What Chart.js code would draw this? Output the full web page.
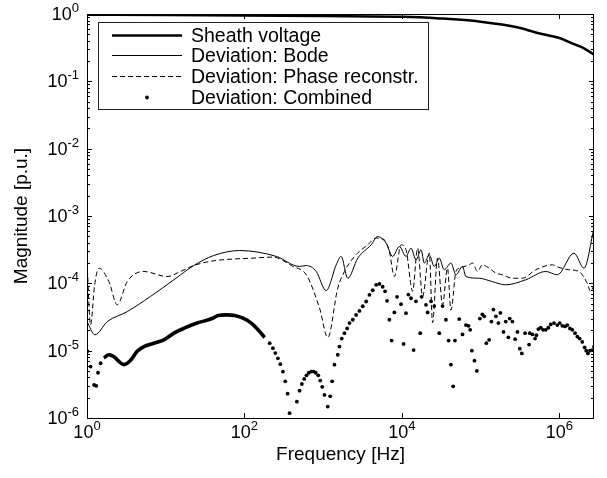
<!DOCTYPE html>
<html>
<head>
<meta charset="utf-8">
<script src="https://cdn.jsdelivr.net/npm/chart.js@4.4.1/dist/chart.umd.min.js"></script>
<style>
  body { margin: 0; background: #fff; }
  #chart { display: block; }
</style>
</head>
<body>
<canvas id="chart" width="607" height="478"></canvas>
<script>
// values (Hz / p.u.)
const seriesNames = ['Sheath voltage', 'Deviation: Bode', 'Deviation: Phase reconstr.', 'Deviation: Combined'];

const sheathFreq = [1, 10, 100, 1e3, 1e4, 3e4, 1e5, 3e5, 5e5, 1e6, 1.5e6, 2e6, 2.75e6];
const sheathMag = [0.975, 0.966, 0.95, 0.93, 0.91, 0.86, 0.77, 0.63, 0.53, 0.44, 0.36, 0.315, 0.25];

const bodeFreq = [1, 1.26, 1.81, 3.24, 6.42, 12.7, 22.7, 40.7, 86.9, 254,
  501, 609, 815, 1090, 1462, 1690, 2050, 2750, 4060, 4920,
  6290, 7620, 9270, 11270, 13030, 15100, 17470, 19230, 22240, 25740,
  29790, 34450, 41880, 48500, 58750, 64900, 95700, 141000, 208000, 374000,
  670000, 940000, 1.53e6, 2.05e6, 2.75e6];
const bodeMag = [2.7e-5, 1.72e-5, 2.7e-5, 3.8e-5, 6.4e-5, 1.13e-4, 1.84e-4, 2.59e-4, 3.07e-4, 2.51e-4,
  1.78e-4, 1.84e-4, 1.5e-4, 7.8e-5, 1.88e-4, 2.51e-4, 1.19e-4, 2.37e-4, 3.73e-4, 4.96e-4,
  3.95e-4, 2.51e-4, 3.52e-4, 2.51e-4, 3.33e-4, 2.23e-4, 3.15e-4, 2.0e-4, 2.65e-4, 1.78e-4,
  2.37e-4, 1.59e-4, 2.0e-4, 1.34e-4, 1.78e-4, 1.26e-4, 1.19e-4, 1.06e-4, 9.5e-5, 1.13e-4,
  1.5e-4, 1.34e-4, 2.81e-4, 1.68e-4, 6.6e-4];

const phaseFreq = [1, 1.11, 1.25, 1.42, 1.9, 2.42, 3.24, 5.28, 10.4, 15.4,
  22.7, 40.7, 128, 230, 412, 609, 898, 1143, 1531, 1862,
  2495, 3670, 4700, 5980, 6920, 8020, 9750, 11270, 13670, 15800,
  18300, 22240, 24500, 28300, 32800, 37900, 41900, 48500, 53400, 71400,
  78700, 91000, 105000, 128000, 156000, 189000, 253000, 339000, 501000, 813000,
  989000, 1.32e6, 1.77e6, 2.26e6, 2.49e6, 2.75e6];
const phaseMag = [2.11e-4, 2.42e-5, 9.5e-5, 1.68e-4, 1.06e-4, 4.8e-5, 1.06e-4, 1.5e-4, 1.26e-4, 1.5e-4,
  1.84e-4, 2.16e-4, 2.37e-4, 2.45e-4, 1.78e-4, 1.34e-4, 4.3e-5, 1.57e-5, 8.5e-5, 1.5e-4,
  2.51e-4, 3.73e-4, 4.7e-4, 4.43e-4, 2.97e-4, 1.26e-4, 3.73e-4, 3.15e-4, 7.6e-5, 3.33e-4,
  6.4e-5, 2.81e-4, 2.6e-5, 2.37e-4, 4.8e-5, 1.68e-4, 4.0e-5, 1.5e-4, 1.68e-4, 1.88e-4,
  2.0e-4, 1.5e-4, 1.88e-4, 1.68e-4, 1.42e-4, 1.34e-4, 1.19e-4, 1.19e-4, 1.59e-4, 1.88e-4,
  1.72e-4, 1.59e-4, 1.5e-4, 1.0e-4, 7.6e-5, 9.5e-5];

// combined: the low-frequency part is so dense the markers merge into a band
const combinedBandFreq = [1.64, 1.9, 2.2, 2.55, 2.94, 3.58, 4.34, 5.28, 7.06, 9.46,
  12.7, 16.9, 25, 38.7, 46.2, 59, 75.2, 95.7, 122, 156, 180];
const combinedBandMag = [7.8e-6, 8.7e-6, 8.1e-6, 6.9e-6, 6.2e-6, 7.2e-6, 9.8e-6, 1.15e-5, 1.29e-5, 1.45e-5,
  1.82e-5, 2.14e-5, 2.57e-5, 3.0e-5, 3.33e-5, 3.4e-5, 3.33e-5, 3.04e-5, 2.57e-5, 1.92e-5, 1.57e-5];

const combinedFreq = [1.01, 1.11, 1.23, 1.31, 1.38, 1.49,
  209, 230, 246, 266, 285, 308, 330, 353, 374,
  463, 501, 536, 574, 614, 657, 705, 754, 805, 865, 916, 971, 1038, 1143, 1226, 1300, 1390, 1531,
  1610, 1720, 1862, 2015, 2155, 2373, 2620, 2885, 3176, 3507, 3864, 4255, 4700, 5175, 5690, 6106,
  6470, 6920, 7400, 8020, 8670, 9750, 10500, 11270, 12050, 13030, 14070, 15100, 17100, 17780,
  20200, 21200, 23400, 25740, 29790, 32800, 36200, 39100, 41900, 44800, 47100, 53400, 58750,
  64900, 70000, 73600, 77300, 83400, 89500, 97700, 105000, 111000, 118000, 128000, 137000,
  145000, 156000, 168000, 178000, 195000, 208000, 225000, 234000, 253000, 274000, 293000,
  314000, 333000, 366000, 412000, 420000, 454000, 491000, 510000, 540000, 580000, 620000,
  670000, 723000, 776000, 855000, 940000, 1.01e6, 1.09e6, 1.18e6, 1.26e6, 1.36e6, 1.46e6,
  1.58e6, 1.69e6, 1.81e6, 1.95e6, 2.09e6, 2.19e6, 2.3e6, 2.44e6, 2.61e6, 2.75e6];
const combinedMag = [9.8e-6, 5.8e-6, 3.1e-6, 3.0e-6, 4.7e-6, 6.5e-6,
  1.29e-5, 1.09e-5, 9.2e-6, 7.7e-6, 6.3e-6, 4.9e-6, 3.5e-6, 2.3e-6, 1.18e-6,
  1.75e-6, 2.55e-6, 3.2e-6, 3.8e-6, 4.3e-6, 4.7e-6, 4.9e-6, 4.9e-6, 4.7e-6, 4.3e-6, 3.6e-6, 2.9e-6, 2.2e-6, 1.48e-6, 2.1e-6, 3.5e-6, 6.2e-6, 8.7e-6,
  1.15e-5, 1.51e-5, 1.82e-5, 2.14e-5, 2.57e-5, 2.88e-5, 3.39e-5, 3.89e-5, 4.57e-5, 5.37e-5, 6.76e-5, 7.9e-5, 9.5e-5, 9.8e-5, 8.9e-5, 7.6e-5,
  5.5e-5, 2.88e-5, 1.41e-5, 3.7e-5, 6.3e-5, 4.9e-5, 1.26e-5, 3.6e-5, 6.8e-5, 6.0e-5, 1.02e-5, 5.4e-5, 1.82e-5, 6.3e-5,
  4.8e-5, 3.7e-5, 5.4e-5, 4.6e-5, 1.82e-5, 4.6e-5, 2.88e-5, 1.41e-5, 6.2e-6, 2.95e-6, 1.41e-5, 2.95e-5, 1.74e-5,
  2.4e-5, 2.34e-5, 2.04e-5, 1.0e-5, 7.1e-6, 5.0e-6, 3.0e-5, 3.47e-5, 3.24e-5, 1.29e-5, 1.45e-5, 2.7e-5,
  4.07e-5, 3.24e-5, 2.57e-5, 3.63e-5, 1.9e-5, 2.7e-5, 1.58e-5, 3.0e-5, 2.7e-5, 1.48e-5, 1.9e-5,
  1.07e-5, 9.1e-6, 1.82e-5, 1.23e-5, 1.82e-5, 1.74e-5, 1.51e-5, 1.7e-5, 2.09e-5, 2.19e-5, 2.04e-5,
  2.04e-5, 2.19e-5, 2.45e-5, 2.57e-5, 2.4e-5, 2.57e-5, 2.34e-5, 2.29e-5, 2.4e-5, 2.14e-5, 2.04e-5,
  1.82e-5, 1.62e-5, 1.51e-5, 1.35e-5, 1.12e-5, 1.0e-5, 9.1e-6, 1.0e-5, 1.02e-5, 1.15e-5];

const xTickExps = [0, 2, 4, 6];
const yTickExps = [-6, -5, -4, -3, -2, -1, 0];
const xMin = 1, xMax = 2.75e6, yMin = 1e-6, yMax = 1;

const FONT = '"Liberation Sans", Arial, sans-serif';

function pts(xs, ys) {
  return xs.map((x, i) => ({ x, y: ys[i] }));
}

// "10" with a raised exponent, like the matlab tick labels
function drawPower(ctx, e, x, y, align) {
  ctx.font = '18px ' + FONT;
  const wb = ctx.measureText('10').width;
  ctx.font = '13px ' + FONT;
  const we = ctx.measureText(String(e)).width;
  const x0 = align === 'center' ? x - (wb + we) / 2 : x - wb - we;
  ctx.font = '18px ' + FONT;
  ctx.fillText('10', x0, y);
  ctx.font = '13px ' + FONT;
  ctx.fillText(String(e), x0 + wb, y - 8);
}

const matlabAxes = {
  id: 'matlabAxes',
  afterDatasetsDraw(chart) {
    const { ctx, chartArea: a, scales: { x, y } } = chart;
    ctx.save();
    ctx.strokeStyle = '#000';
    ctx.lineWidth = 1;
    ctx.strokeRect(a.left + 0.5, a.top + 0.5, a.right - a.left - 1, a.bottom - a.top);

    ctx.beginPath();
    xTickExps.forEach(e => {
      const px = Math.round(x.getPixelForValue(10 ** e)) + 0.5;
      ctx.moveTo(px, a.bottom); ctx.lineTo(px, a.bottom - 5);
      ctx.moveTo(px, a.top); ctx.lineTo(px, a.top + 5);
    });
    yTickExps.forEach(e => {
      for (let k = 1; k < 10; k++) {
        const v = k * 10 ** e;
        if (v > yMax * 1.001) break;
        const len = k === 1 ? 5 : 3;
        const py = Math.round(y.getPixelForValue(v)) + 0.5;
        ctx.moveTo(a.left, py); ctx.lineTo(a.left + len, py);
        ctx.moveTo(a.right, py); ctx.lineTo(a.right - len, py);
      }
    });
    ctx.stroke();

    ctx.fillStyle = '#000';
    ctx.textBaseline = 'alphabetic';
    ctx.textAlign = 'left';
    xTickExps.forEach(e => {
      drawPower(ctx, e, x.getPixelForValue(10 ** e), a.bottom + 20, 'center');
    });
    yTickExps.forEach(e => {
      drawPower(ctx, e, a.left - 8, y.getPixelForValue(10 ** e) + 6, 'right');
    });

    // legend box, top-left inside the axes
    const lx = 98, ly = 22, lw = 330, lh = 87;
    ctx.fillStyle = '#fff';
    ctx.fillRect(lx, ly, lw, lh);
    ctx.strokeStyle = '#222';
    ctx.strokeRect(lx + 0.5, ly + 0.5, lw, lh);
    const rows = [35, 55, 76, 97];
    const legendSets = [0, 1, 2, 4];
    ctx.font = '19.5px ' + FONT;
    legendSets.forEach((di, i) => {
      const ds = chart.data.datasets[di];
      const ry = rows[i] + 0.5;
      ctx.strokeStyle = '#000';
      ctx.fillStyle = '#000';
      if (ds.showLine) {
        ctx.lineWidth = ds.borderWidth;
        ctx.setLineDash(ds.borderDash || []);
        ctx.beginPath();
        ctx.moveTo(112, ry); ctx.lineTo(182, ry);
        ctx.stroke();
        ctx.setLineDash([]);
      } else {
        ctx.beginPath();
        ctx.arc(147, ry, ds.pointRadius, 0, Math.PI * 2);
        ctx.fill();
      }
      ctx.textBaseline = 'middle';
      ctx.fillText(ds.label, 191, ry + 1);
    });
    ctx.restore();
  }
};

new Chart(document.getElementById('chart'), {
  type: 'scatter',
  data: {
    datasets: [
      { label: seriesNames[0], data: pts(sheathFreq, sheathMag), showLine: true,
        borderColor: '#000', borderWidth: 2.5, pointRadius: 0, cubicInterpolationMode: 'monotone' },
      { label: seriesNames[1], data: pts(bodeFreq, bodeMag), showLine: true,
        borderColor: '#000', borderWidth: 1, pointRadius: 0, cubicInterpolationMode: 'monotone' },
      { label: seriesNames[2], data: pts(phaseFreq, phaseMag), showLine: true,
        borderColor: '#000', borderWidth: 1, borderDash: [5, 3], pointRadius: 0, cubicInterpolationMode: 'monotone' },
      { label: seriesNames[3] + ' (dense)', data: pts(combinedBandFreq, combinedBandMag), showLine: true,
        borderColor: '#000', borderWidth: 3.6, pointRadius: 0, cubicInterpolationMode: 'monotone' },
      { label: seriesNames[3], data: pts(combinedFreq, combinedMag), showLine: false,
        backgroundColor: '#000', borderColor: '#000', borderWidth: 0, pointRadius: 1.9 }
    ]
  },
  options: {
    responsive: false,
    animation: false,
    events: [],
    layout: { padding: { left: 0, top: 14, right: 13, bottom: 0 } },
    plugins: { legend: { display: false }, tooltip: { enabled: false } },
    scales: {
      x: {
        type: 'logarithmic', min: xMin, max: xMax,
        grid: { display: false }, border: { display: false },
        ticks: { display: false },
        title: { display: true, text: 'Frequency [Hz]', color: '#000',
          font: { family: FONT, size: 19 }, padding: { top: 0, bottom: 12 } },
        afterFit: s => { s.height = 60; }
      },
      y: {
        type: 'logarithmic', min: yMin, max: yMax,
        grid: { display: false }, border: { display: false },
        ticks: { display: false },
        title: { display: true, text: 'Magnitude [p.u.]', color: '#000',
          font: { family: FONT, size: 19 }, padding: { top: 10, bottom: 0 } },
        afterFit: s => { s.width = 87; }
      }
    }
  },
  plugins: [matlabAxes]
});
</script>
</body>
</html>
